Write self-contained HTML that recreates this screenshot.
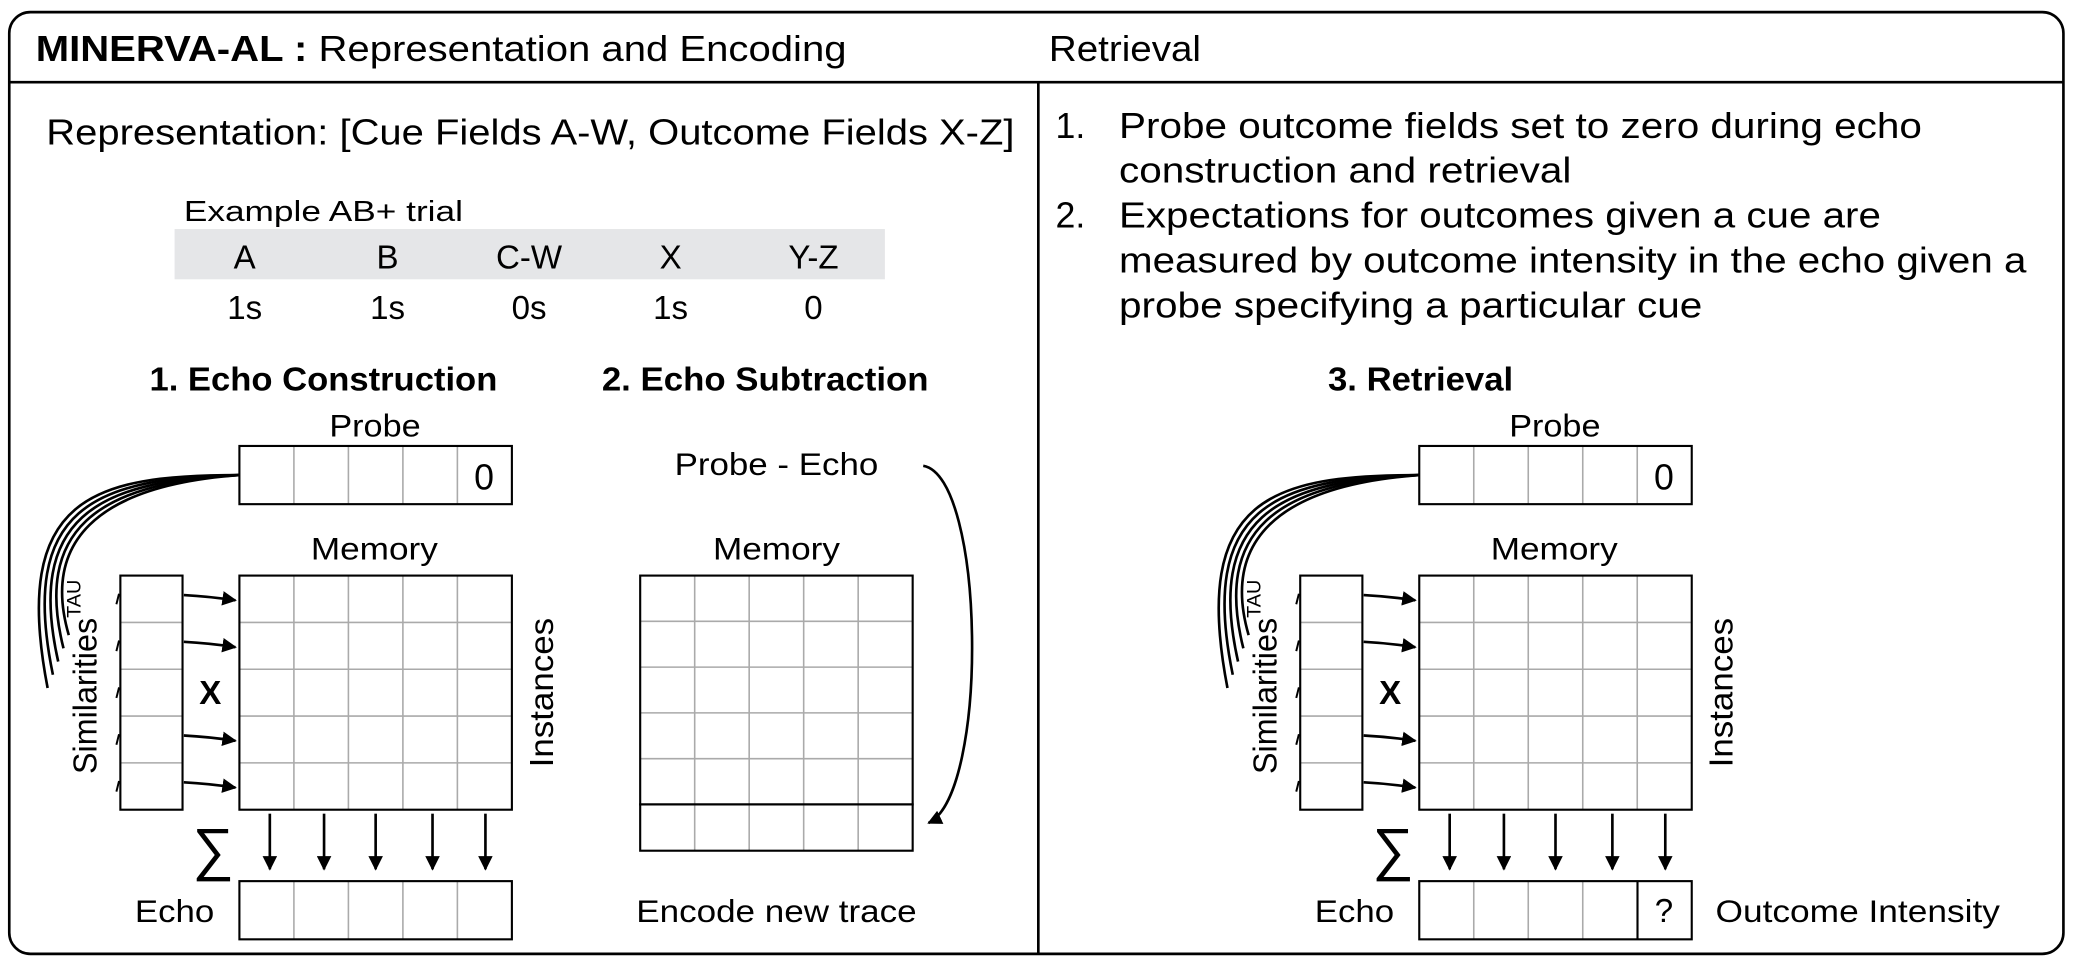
<!DOCTYPE html>
<html><head><meta charset="utf-8"><style>
html,body{margin:0;padding:0;background:#fff}
svg{display:block;font-family:"Liberation Sans",Arial,sans-serif}
</style></head><body>
<svg id="s" width="2074" height="966" viewBox="0 0 1568 730" xmlns="http://www.w3.org/2000/svg">
<defs><marker id="ah" viewBox="0 0 10 10" refX="9" refY="5" markerWidth="5.5" markerHeight="5.5" orient="auto"><path d="M0,0L10,5L0,10z" fill="#000"/></marker></defs>
<rect x="7" y="9" width="1553" height="712" rx="16" fill="#fff" stroke="#000" stroke-width="2"/>
<line x1="7" y1="62" x2="1560" y2="62" stroke="#000" stroke-width="2"/>
<line x1="785" y1="62" x2="785" y2="721" stroke="#000" stroke-width="2"/>
<text x="27" y="46" font-size="27" textLength="613" lengthAdjust="spacingAndGlyphs"><tspan font-weight="bold">MINERVA-AL :</tspan> Representation and Encoding</text>
<text x="793" y="46" font-size="27" textLength="115" lengthAdjust="spacingAndGlyphs">Retrieval</text>
<text x="35" y="109" font-size="27" textLength="732" lengthAdjust="spacingAndGlyphs">Representation: [Cue Fields A-W, Outcome Fields X-Z]</text>
<text x="139" y="167" font-size="22" textLength="211" lengthAdjust="spacingAndGlyphs">Example AB+ trial</text>
<rect x="132" y="173" width="537" height="38" fill="#e5e6e8"/>
<g font-size="25" text-anchor="middle">
<text x="185" y="203">A</text><text x="293" y="203">B</text><text x="400" y="203">C-W</text><text x="507" y="203">X</text><text x="615" y="203">Y-Z</text>
<text x="185" y="241">1s</text><text x="293" y="241">1s</text><text x="400" y="241">0s</text><text x="507" y="241">1s</text><text x="615" y="241">0</text>
</g>
<text x="113" y="295" font-size="25" font-weight="bold" textLength="263" lengthAdjust="spacingAndGlyphs">1. Echo Construction</text>
<text x="455" y="295" font-size="25" font-weight="bold" textLength="247" lengthAdjust="spacingAndGlyphs">2. Echo Subtraction</text>
<g font-size="27">
<text x="798" y="104">1.</text><text x="846" y="104" textLength="607" lengthAdjust="spacingAndGlyphs">Probe outcome fields set to zero during echo</text>
<text x="846" y="138" textLength="342" lengthAdjust="spacingAndGlyphs">construction and retrieval</text>
<text x="798" y="172">2.</text><text x="846" y="172" textLength="576" lengthAdjust="spacingAndGlyphs">Expectations for outcomes given a cue are</text>
<text x="846" y="206" textLength="686" lengthAdjust="spacingAndGlyphs">measured by outcome intensity in the echo given a</text>
<text x="846" y="240" textLength="441" lengthAdjust="spacingAndGlyphs">probe specifying a particular cue</text>
</g>
<text x="1004" y="295" font-size="25" font-weight="bold" textLength="140" lengthAdjust="spacingAndGlyphs">3. Retrieval</text>
<text x="510" y="359" font-size="24" textLength="154" lengthAdjust="spacingAndGlyphs">Probe - Echo</text>
<text x="539" y="423" font-size="24" textLength="96" lengthAdjust="spacingAndGlyphs">Memory</text>
<g id="mem2"></g>
<path d="M698,352 C745,360 748,600 702,622" fill="none" stroke="#000" stroke-width="2" marker-end="url(#ah)"/>
<text x="481" y="697" font-size="24" textLength="212" lengthAdjust="spacingAndGlyphs">Encode new trace</text>
<g id="mods"></g>
</svg>
<script>
const NS='http://www.w3.org/2000/svg';
function el(p,t,a){const e=document.createElementNS(NS,t);for(const k in a)e.setAttribute(k,a[k]);p.appendChild(e);return e;}
function grid(p,x,y,w,h,cols,rows){
  for(let i=1;i<cols;i++)el(p,'line',{x1:x+w*i/cols,y1:y,x2:x+w*i/cols,y2:y+h,stroke:'#aaa','stroke-width':1.2});
  for(let j=1;j<rows;j++)el(p,'line',{x1:x,y1:y+h*j/rows,x2:x+w,y2:y+h*j/rows,stroke:'#aaa','stroke-width':1.2});
  el(p,'rect',{x:x,y:y,width:w,height:h,fill:'none',stroke:'#000','stroke-width':1.6});
}
const m2=document.getElementById('mem2');
grid(m2,484,435,206,173,5,5);
grid(m2,484,608,206,35,5,1);
const mods=document.getElementById('mods');
function module(dx,retrieval){
  const g=el(mods,'g',{});
  
  
  const X=181+dx;
  const t1=el(g,'text',{x:X+68,y:330,'font-size':24,textLength:69,lengthAdjust:'spacingAndGlyphs'});t1.textContent='Probe';
  grid(g,X,337,206,44,5,1);
  const z=el(g,'text',{x:X+185,y:370,'font-size':27,'text-anchor':'middle'});z.textContent='0';
  const t2=el(g,'text',{x:X+54,y:423,'font-size':24,textLength:96,lengthAdjust:'spacingAndGlyphs'});t2.textContent='Memory';
  for(let i=0;i<5;i++){
    el(g,'path',{d:`M${X},359 C${X-110},${359+i*2} ${dx+8+i*6},${375+i*9} ${dx+36+i*4},${520-i*10}`,fill:'none',stroke:'#000','stroke-width':2});
  }
  grid(g,91+dx,435,47,177,1,5);
  grid(g,X,435,206,177,5,5);
  const rh=177/5;
  for(let j=0;j<5;j++){
    const cy=435+rh*j+rh/2;
    el(g,'line',{x1:88+dx,y1:435+rh*(j+0.5)+4,x2:90+dx,y2:435+rh*(j+0.5)-4,stroke:'#000','stroke-width':1.5});
    if(j===2)continue;
    el(g,'path',{d:`M${139+dx},${cy-3} Q${158+dx},${cy-2} ${X-3},${cy+1}`,fill:'none',stroke:'#000','stroke-width':2,'marker-end':'url(#ah)'});
  }
  const x=el(g,'text',{x:159+dx,y:532,'font-size':25,'font-weight':'bold','text-anchor':'middle'});x.textContent='X';
  const s=el(g,'text',{x:0,y:0,'font-size':25,transform:`translate(${73+dx},585) rotate(-90)`});
  s.innerHTML='<tspan textLength="118" lengthAdjust="spacingAndGlyphs">Similarities</tspan><tspan dy="-12" font-size="15">TAU</tspan>';
  const ins=el(g,'text',{x:0,y:0,'font-size':25,textLength:113,lengthAdjust:'spacingAndGlyphs',transform:`translate(${418+dx},580) rotate(-90)`});ins.textContent='Instances';
  [204,245,284,327,367].forEach(c=>el(g,'line',{x1:c+dx,y1:615,x2:c+dx,y2:657,stroke:'#000','stroke-width':2,'marker-end':'url(#ah)'}));
  const sg=el(g,'text',{x:161+dx,y:657,'font-size':44,'text-anchor':'middle'});sg.textContent='\u2211';
  const ec=el(g,'text',{x:102+dx,y:697,'font-size':24,textLength:60,lengthAdjust:'spacingAndGlyphs'});ec.textContent='Echo';
  grid(g,X,666,206,44,5,1);
  if(retrieval){
    el(g,'line',{x1:X+165,y1:666,x2:X+165,y2:710,stroke:'#000','stroke-width':1.6});
    const q=el(g,'text',{x:X+185,y:697,'font-size':25,'text-anchor':'middle'});q.textContent='?';
    const oi=el(g,'text',{x:1297,y:697,'font-size':24,textLength:215,lengthAdjust:'spacingAndGlyphs'});oi.textContent='Outcome Intensity';
  }
}
module(0,false);
module(892,true);
</script>
</body></html>
